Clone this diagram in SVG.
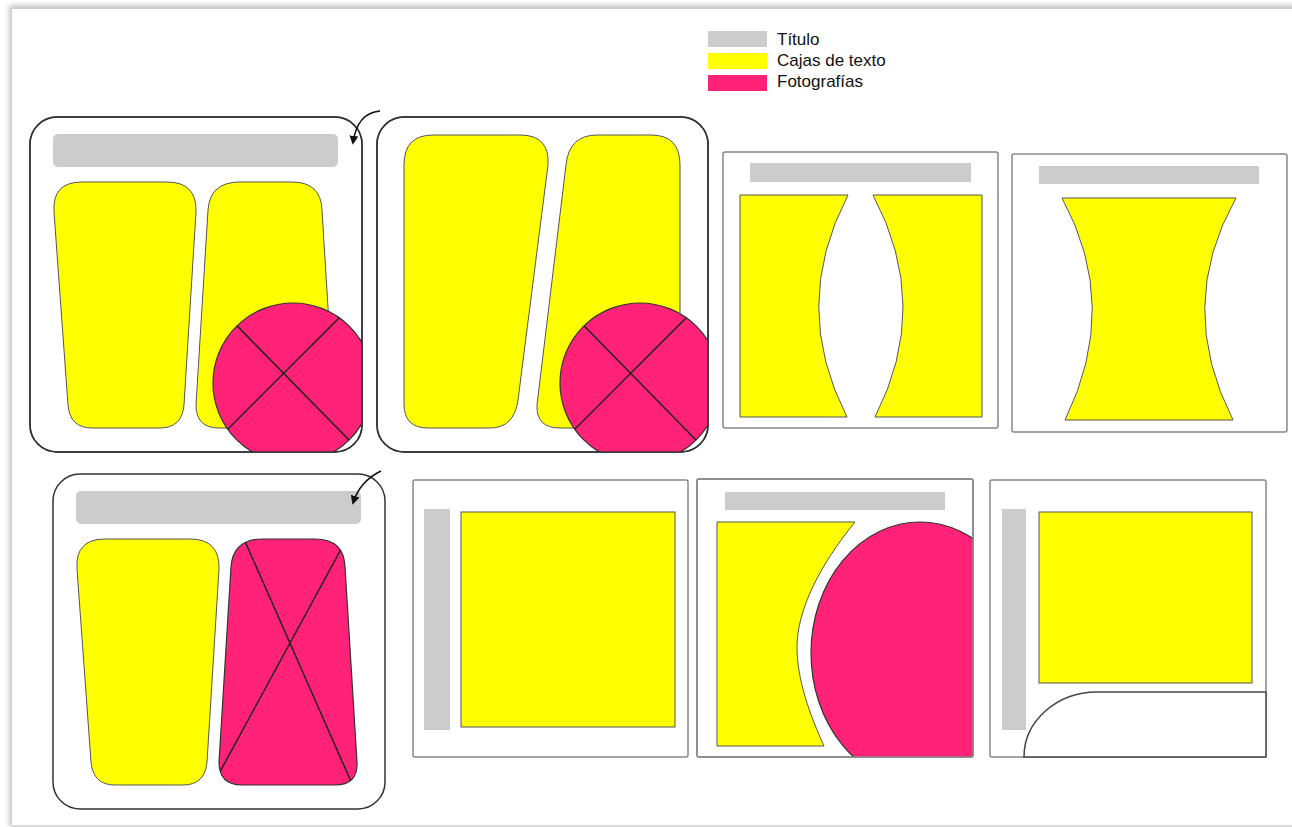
<svg xmlns="http://www.w3.org/2000/svg" width="1292" height="827" viewBox="0 0 1292 827">
<style>
.rpanel{fill:#fff;stroke:#333;stroke-width:1.5}
.rborder{fill:none;stroke:#333;stroke-width:1.5}
.sqpanel{fill:#fff;stroke:#888;stroke-width:1.5}
.title{fill:#cccccc}
.text{fill:#ffff00;stroke:#555;stroke-width:1}
.photo{fill:#ff2277;stroke:#333;stroke-width:1.2}
.xline{stroke:#222;stroke-width:1.5;fill:none}
.lbl{font-family:"Liberation Sans",Arial,sans-serif;font-size:17px;fill:#111}
.mark{fill:none;stroke:#111;stroke-width:1.5}
</style>
<defs>
<filter id="sh" x="-5%" y="-5%" width="110%" height="110%"><feGaussianBlur stdDeviation="2.5"/></filter>
<marker id="ah" viewBox="0 0 10 10" refX="8" refY="5" markerWidth="6" markerHeight="6" orient="auto"><path d="M0 0 L10 5 L0 10 Z" fill="#111"/></marker>
<clipPath id="cp1"><rect x="30" y="117" width="332" height="335" rx="27"/></clipPath>
<clipPath id="cc1"><circle cx="293" cy="383" r="80"/></clipPath>
<clipPath id="cp2"><rect x="377" y="117" width="331" height="335" rx="27"/></clipPath>
<clipPath id="cc2"><circle cx="640" cy="383" r="80"/></clipPath>
<clipPath id="cp5"><path d="M 240 182 H 292 Q 321 182 322 210 L 334 405 Q 335 428 312 428 H 219 Q 196 428 196 405 L 208 210 Q 210 182 240 182 Z"/></clipPath>
<clipPath id="cp7"><rect x="697" y="479" width="276" height="278"/></clipPath>
</defs>

<rect x="0" y="0" width="1292" height="827" fill="#fff"/>
<rect x="9" y="5" width="1300" height="822" fill="#c8c8c8" filter="url(#sh)"/>
<rect x="12" y="9" width="1290" height="816" fill="#fff"/>

<g id="legend">
<rect x="708" y="31" width="59" height="16" class="title"/>
<rect x="708" y="53" width="59" height="16" fill="#ffff00"/>
<rect x="708" y="75" width="59" height="16" fill="#ff2277"/>
<text x="777" y="45" class="lbl">Título</text>
<text x="777" y="66" class="lbl">Cajas de texto</text>
<text x="777" y="87" class="lbl">Fotografías</text>
</g>

<g id="panel1">
<rect x="30" y="117" width="332" height="335" rx="27" class="rpanel"/>
<rect x="53" y="134" width="285" height="33" rx="5" class="title"/>
<path class="text" d="M 82 182 H 167 Q 197 182 196 212 L 184 405 Q 182 428 160 428 H 92 Q 70 428 68 405 L 54 212 Q 52 182 82 182 Z"/>
<path class="text" d="M 240 182 H 292 Q 321 182 322 210 L 334 405 Q 335 428 312 428 H 219 Q 196 428 196 405 L 208 210 Q 210 182 240 182 Z"/>
<g clip-path="url(#cp1)">
<circle cx="293" cy="383" r="80" class="photo"/>
<g clip-path="url(#cc1)">
<line x1="200" y1="288" x2="400" y2="492" class="xline"/>
<line x1="400" y1="257" x2="180" y2="477" class="xline"/>
</g>
</g>
<rect x="30" y="117" width="332" height="335" rx="27" class="rborder"/>
</g>

<g id="panel2">
<rect x="377" y="117" width="331" height="335" rx="27" class="rpanel"/>
<path class="text" d="M 433 135 H 520 Q 550 135 548 165 L 518 400 Q 514 428 490 428 H 428 Q 404 428 404 404 V 165 Q 404 135 433 135 Z"/>
<path class="text" d="M 597 135 H 651 Q 680 135 680 165 V 405 Q 680 428 657 428 H 560 Q 536 428 537 405 L 566 165 Q 569 135 597 135 Z"/>
<g clip-path="url(#cp2)">
<circle cx="640" cy="383" r="80" class="photo"/>
<g clip-path="url(#cc2)">
<line x1="547" y1="288" x2="747" y2="492" class="xline"/>
<line x1="747" y1="257" x2="527" y2="477" class="xline"/>
</g>
</g>
<rect x="377" y="117" width="331" height="335" rx="27" class="rborder"/>
</g>

<g id="panel3">
<rect x="723" y="152" width="275" height="276" rx="2" class="sqpanel"/>
<rect x="750" y="163" width="221" height="19" class="title"/>
<path class="text" d="M 740 195 H 848 Q 790 306 847 417 H 740 Z"/>
<path class="text" d="M 873 195 H 982 V 417 H 875 Q 932 306 873 195 Z"/>
</g>

<g id="panel4">
<rect x="1012" y="154" width="275" height="278" rx="2" class="sqpanel"/>
<rect x="1039" y="166" width="220" height="18" class="title"/>
<path class="text" d="M 1062 198 H 1236 Q 1175 306 1233 420 H 1065 Q 1121 306 1062 198 Z"/>
</g>

<g id="panel5">
<g transform="translate(23,357)">
<rect x="30" y="117" width="332" height="335" rx="27" class="rpanel"/>
<rect x="53" y="134" width="285" height="33" rx="5" class="title"/>
<path class="text" d="M 82 182 H 167 Q 197 182 196 212 L 184 405 Q 182 428 160 428 H 92 Q 70 428 68 405 L 54 212 Q 52 182 82 182 Z"/>
<path class="photo" d="M 240 182 H 292 Q 321 182 322 210 L 334 405 Q 335 428 312 428 H 219 Q 196 428 196 405 L 208 210 Q 210 182 240 182 Z"/>
<g clip-path="url(#cp5)">
<line x1="202" y1="139" x2="345" y2="463" class="xline"/>
<line x1="335" y1="161" x2="180" y2="446" class="xline"/>
</g>
</g>
</g>

<g id="panel6">
<rect x="413" y="480" width="275" height="277" rx="2" class="sqpanel"/>
<rect x="424" y="509" width="26" height="221" class="title"/>
<rect x="461" y="512" width="214" height="215" class="text"/>
</g>

<g id="panel7">
<rect x="697" y="479" width="276" height="278" rx="2" class="sqpanel"/>
<rect x="725" y="492" width="220" height="18" class="title"/>
<path class="text" d="M 717 522 H 855 C 820 565 797 610 797 647 C 797 680 810 715 824 746 H 717 Z"/>
<g clip-path="url(#cp7)">
<ellipse cx="920" cy="653" rx="109" ry="131" class="photo"/>
</g>
<rect x="697" y="479" width="276" height="278" rx="2" fill="none" stroke="#888" stroke-width="1.5"/>
</g>

<g id="panel8">
<rect x="990" y="480" width="276" height="277" rx="2" class="sqpanel"/>
<rect x="1002" y="509" width="24" height="221" class="title"/>
<rect x="1039" y="512" width="213" height="171" class="text"/>
<path d="M 1024 757 A 73 65 0 0 1 1097 692 H 1266 V 757 Z" fill="#fff" stroke="#444" stroke-width="1.5"/>
</g>

<g id="connectors">
<path class="mark" d="M 380 111 Q 357 113 353 143" marker-end="url(#ah)"/>
<path class="mark" d="M 381 471 Q 360 481 353 503" marker-end="url(#ah)"/>
</g>
</svg>
